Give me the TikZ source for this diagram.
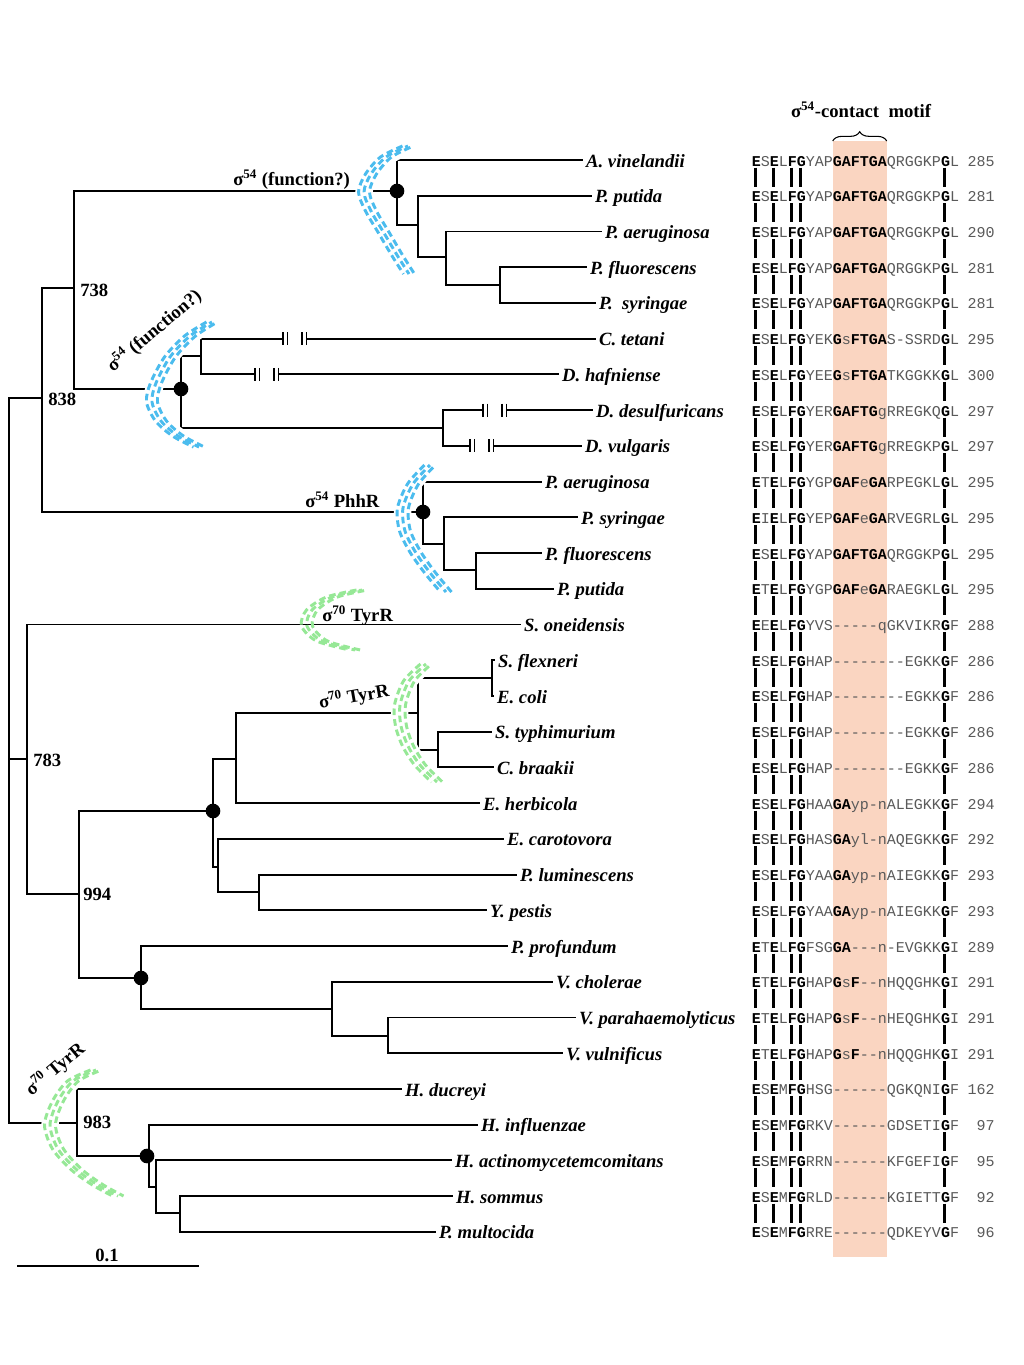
\documentclass[tikz,border=0pt]{standalone}
\usepackage{fontspec}
\setmainfont{Liberation Serif}
\setmonofont{Liberation Mono}
\usetikzlibrary{decorations.pathreplacing}
\definecolor{peach}{RGB}{250,213,193}
\definecolor{hblue}{RGB}{75,188,238}
\definecolor{hgreen}{RGB}{150,232,150}
\definecolor{seqgray}{RGB}{90,90,90}
\newcommand\sqb[1]{{\bfseries\color{black}#1}}
\tikzset{
 br/.style={line width=1.4pt},
 leaf/.style={anchor=west, inner xsep=2.2pt, inner ysep=0pt, text height=10.5pt, text depth=0pt, font=\fontsize{14}{16}\selectfont\bfseries\itshape},
 boot/.style={anchor=west, inner sep=0pt, text height=9.5pt, text depth=0pt, font=\fontsize{14}{16}\selectfont\bfseries},
 sig/.style={inner sep=0pt, font=\fontsize{14}{16}\selectfont\bfseries},
 seq/.style={anchor=base west, inner sep=0pt, font=\fontsize{11.25}{13}\selectfont\ttfamily, text=seqgray},
 num/.style={anchor=base east, inner sep=0pt, font=\fontsize{11.25}{13}\selectfont\ttfamily, text=seqgray},
 bar/.style={line width=1.7pt},
 under/.style={white, line width=13pt},
 stripeB/.style={hblue, line width=2.2pt, dash pattern=on 5pt off 3pt},
 stripeG/.style={hgreen, line width=2.2pt, dash pattern=on 5pt off 3pt},
 brk/.pic={\fill[white] (0.8,-3) rectangle (22.7,3);
   \draw[line width=1pt] (0,-6.5)--(0,6.5) (4.5,-6.5)--(4.5,6.5) (19,-6.5)--(19,6.5) (23.5,-6.5)--(23.5,6.5);}
}
\begin{document}
\begin{tikzpicture}[x=0.75pt,y=-0.75pt]
\useasboundingbox (0,0) rectangle (1024,1365);
\fill[white] (0,0) rectangle (1024,1365);
% motif band
\fill[peach] (832.7,141) rectangle (886.7,1257);

% leaves
\node[leaf] (L1) at (583,160.0) {A. vinelandii};
\node[leaf] (L2) at (592,195.7) {P. putida};
\node[leaf] (L3) at (602,231.5) {P. aeruginosa};
\node[leaf] (L4) at (587,267.2) {P. fluorescens};
\node[leaf] (L5) at (596,302.9) {P.\ \ syringae};
\node[leaf] (L6) at (596,338.7) {C. tetani};
\node[leaf] (L7) at (559,374.4) {D. hafniense};
\node[leaf] (L8) at (593,410.1) {D. desulfuricans};
\node[leaf] (L9) at (582,445.8) {D. vulgaris};
\node[leaf] (L10) at (542,481.6) {P. aeruginosa};
\node[leaf] (L11) at (578,517.3) {P. syringae};
\node[leaf] (L12) at (542,553.0) {P. fluorescens};
\node[leaf] (L13) at (554,588.8) {P. putida};
\node[leaf] (L14) at (521,624.5) {S. oneidensis};
\node[leaf] (L15) at (495,660.2) {S. flexneri};
\node[leaf] (L16) at (494,696.0) {E. coli};
\node[leaf] (L17) at (492,731.7) {S. typhimurium};
\node[leaf] (L18) at (494,767.4) {C. braakii};
\node[leaf] (L19) at (480,803.1) {E. herbicola};
\node[leaf] (L20) at (504,838.9) {E. carotovora};
\node[leaf] (L21) at (517,874.6) {P. luminescens};
\node[leaf] (L22) at (487,910.3) {Y. pestis};
\node[leaf] (L23) at (508,946.1) {P. profundum};
\node[leaf] (L24) at (553,981.8) {V. cholerae};
\node[leaf] (L25) at (576,1017.5) {V. parahaemolyticus};
\node[leaf] (L26) at (563,1053.3) {V. vulnificus};
\node[leaf] (L27) at (402,1089.0) {H. ducreyi};
\node[leaf] (L28) at (478,1124.7) {H. influenzae};
\node[leaf] (L29) at (452,1160.4) {H. actinomycetemcomitans};
\node[leaf] (L30) at (453,1196.2) {H. sommus};
\node[leaf] (L31) at (436,1231.9) {P. multocida};

% internal nodes
\coordinate (root) at (9,759);
\coordinate (n838) at (42,398);
\coordinate (n738) at (74,288);
\coordinate (nA) at (397,191);
\coordinate (nA1) at (418,225);
\coordinate (nA2) at (446,257);
\coordinate (nA3) at (500,285);
\coordinate (nB) at (181,389);
\coordinate (nB1) at (201,356);
\coordinate (nB2) at (443,428);
\coordinate (nC) at (423,512);
\coordinate (nC1) at (444,544);
\coordinate (nC2) at (476,570);
\coordinate (n783) at (27,759);
\coordinate (n994) at (79,894);
\coordinate (nE) at (213,811);
\coordinate (nE1) at (236,759);
\coordinate (nE2) at (418,713);
\coordinate (nE3) at (492,678);
\coordinate (nE4) at (438,750);
\coordinate (nE5) at (218,867);
\coordinate (nE6) at (259,892);
\coordinate (nV) at (141,978);
\coordinate (nV1) at (332,1009);
\coordinate (nV2) at (388,1036);
\coordinate (n983) at (77,1123);
\coordinate (nH) at (149,1156);
\coordinate (nH1) at (156,1187);
\coordinate (nH2) at (180,1213);

% connectors
\draw[br] (root) |- (n838);
\draw[br] (root) |- (n783);
\draw[br] (root) |- (n983);
\draw[br] (n838) |- (n738);
\draw[br] (n838) |- (nC);
\draw[br] (n738) |- (nA);
\draw[br] (n738) |- (nB);
\draw[br] (nA) |- (L1.west);
\draw[br] (nA) |- (nA1);
\draw[br] (nA1) |- (L2.west);
\draw[br] (nA1) |- (nA2);
\draw[br] (nA2) |- (L3.west);
\draw[br] (nA2) |- (nA3);
\draw[br] (nA3) |- (L4.west);
\draw[br] (nA3) |- (L5.west);
\draw[br] (nB) |- (nB1);
\draw[br] (nB) |- (nB2);
\draw[br] (nB1) |- (L6.west);
\draw[br] (nB1) |- (L7.west);
\draw[br] (nB2) |- (L8.west);
\draw[br] (nB2) |- (L9.west);
\draw[br] (nC) |- (L10.west);
\draw[br] (nC) |- (nC1);
\draw[br] (nC1) |- (L11.west);
\draw[br] (nC1) |- (nC2);
\draw[br] (nC2) |- (L12.west);
\draw[br] (nC2) |- (L13.west);
\draw[br] (n783) |- (L14.west);
\draw[br] (n783) |- (n994);
\draw[br] (n994) |- (nE);
\draw[br] (n994) |- (nV);
\draw[br] (nE) |- (nE1);
\draw[br] (nE) |- (nE5);
\draw[br] (nE1) |- (nE2);
\draw[br] (nE1) |- (L19.west);
\draw[br] (nE2) |- (nE3);
\draw[br] (nE2) |- (nE4);
\draw[br] (nE3) |- (L15.west);
\draw[br] (nE3) |- (L16.west);
\draw[br] (nE4) |- (L17.west);
\draw[br] (nE4) |- (L18.west);
\draw[br] (nE5) |- (L20.west);
\draw[br] (nE5) |- (nE6);
\draw[br] (nE6) |- (L21.west);
\draw[br] (nE6) |- (L22.west);
\draw[br] (nV) |- (L23.west);
\draw[br] (nV) |- (nV1);
\draw[br] (nV1) |- (L24.west);
\draw[br] (nV1) |- (nV2);
\draw[br] (nV2) |- (L25.west);
\draw[br] (nV2) |- (L26.west);
\draw[br] (n983) |- (L27.west);
\draw[br] (n983) |- (nH);
\draw[br] (nH) |- (L28.west);
\draw[br] (nH) |- (nH1);
\draw[br] (nH1) |- (L29.west);
\draw[br] (nH1) |- (nH2);
\draw[br] (nH2) |- (L30.west);
\draw[br] (nH2) |- (L31.west);

% branch breaks
\pic at (283,338.7) {brk};
\pic at (255,374.4) {brk};
\pic at (483,410.1) {brk};
\pic at (470,445.8) {brk};

% hatched bands: white underlays
\draw[under] plot[smooth] coordinates {(408,146) (386,157) (371,174) (364,192) (371,211) (384,233) (397,255) (409,274)};
\draw[under] plot[smooth] coordinates {(212,322) (190,336) (170,357) (156,383) (152,402) (161,421) (178,436) (199,447)};
\draw[under] plot[smooth] coordinates {(430,465) (413,484) (403,508) (405,531) (416,553) (431,574) (446,592)};
\draw[under] plot[smooth] coordinates {(426,664) (409,681) (400,705) (401,726) (408,746) (420,765) (437,782)};
\draw[under] plot[smooth] coordinates {(96,1070) (73,1081) (58,1101) (50,1125) (58,1149) (77,1170) (98,1185) (118,1196)};
% stripes
\foreach \s/\p in {-5.5/0pt,0/2.7pt,5.5/5.4pt}{
 \draw[stripeB, dash phase=\p, shift={(\s,0)}] plot[smooth] coordinates {(408,146) (386,157) (371,174) (364,192) (371,211) (384,233) (397,255) (409,274)};
 \draw[stripeB, dash phase=\p, shift={(\s,0)}] plot[smooth] coordinates {(212,322) (190,336) (170,357) (156,383) (152,402) (161,421) (178,436) (199,447)};
 \draw[stripeB, dash phase=\p, shift={(\s,0)}] plot[smooth] coordinates {(430,465) (413,484) (403,508) (405,531) (416,553) (431,574) (446,592)};
 \draw[stripeG, dash phase=\p, shift={(\s,0)}] plot[smooth] coordinates {(362,590) (332,597) (312,610) (307,626) (322,641) (355,650)};
 \draw[stripeG, dash phase=\p, shift={(\s,0)}] plot[smooth] coordinates {(426,664) (409,681) (400,705) (401,726) (408,746) (420,765) (437,782)};
 \draw[stripeG, dash phase=\p, shift={(\s,0)}] plot[smooth] coordinates {(96,1070) (73,1081) (58,1101) (50,1125) (58,1149) (77,1170) (98,1185) (118,1196)};
}

% node dots
\fill (nA) circle (5.5pt);
\fill (nB) circle (5.5pt);
\fill (nC) circle (5.5pt);
\fill (nE) circle (5.5pt);
\fill (nV) circle (5.5pt);
\fill ([xshift=-1.5pt]nH) circle (5.5pt);

% bootstrap values
\node[boot] (b738) at (80,290) {738};
\node[boot] (b838) at (48,399) {838};
\node[boot] (b783) at (33,760) {783};
\node[boot] (b994) at (83,894) {994};
\node[boot] (b983) at (83,1122) {983};

% sigma labels
\node[sig, anchor=base west] (sg1) at (233,185) {σ\textsuperscript{54} (function?)};
\node[sig, rotate=40] (sg2) at (154,331) {σ\textsuperscript{54} (function?)};
\node[sig, anchor=base west] (sg3) at (305,507) {σ\textsuperscript{54} PhhR};
\node[sig, anchor=base west] (sg4) at (322,621) {σ\textsuperscript{70} TyrR};
\node[sig, rotate=10] (sg5) at (354,697) {σ\textsuperscript{70} TyrR};
\node[sig, rotate=40] (sg6) at (55,1069) {σ\textsuperscript{70} TyrR};

% scale bar
\coordinate (sb1) at (17,1266);
\coordinate (sb2) at (199,1266);
\draw[line width=1.4pt] (sb1) -- (sb2);
\node[sig, anchor=base] (sbl) at (107,1261) {0.1};

% motif title and brace
\node[sig, anchor=base] (ttl) at (861,117) {σ\textsuperscript{54}-contact\ \ motif};
\coordinate (bl) at (832.7,141);
\coordinate (brr) at (886.7,141);
\draw[decorate, decoration={brace, amplitude=7pt}, line width=0.8pt] (bl) -- (brr);

% alignment rows
\foreach \i/\q/\n in {
1/{\sqb{E}S\sqb{E}L\sqb{FG}YAP\sqb{GAFTGA}QRGGKP\sqb{G}L}/285,
2/{\sqb{E}S\sqb{E}L\sqb{FG}YAP\sqb{GAFTGA}QRGGKP\sqb{G}L}/281,
3/{\sqb{E}S\sqb{E}L\sqb{FG}YAP\sqb{GAFTGA}QRGGKP\sqb{G}L}/290,
4/{\sqb{E}S\sqb{E}L\sqb{FG}YAP\sqb{GAFTGA}QRGGKP\sqb{G}L}/281,
5/{\sqb{E}S\sqb{E}L\sqb{FG}YAP\sqb{GAFTGA}QRGGKP\sqb{G}L}/281,
6/{\sqb{E}S\sqb{E}L\sqb{FG}YEK\sqb{G}s\sqb{FTGA}S-SSRD\sqb{G}L}/295,
7/{\sqb{E}S\sqb{E}L\sqb{FG}YEE\sqb{G}s\sqb{FTGA}TKGGKK\sqb{G}L}/300,
8/{\sqb{E}S\sqb{E}L\sqb{FG}YER\sqb{GAFTG}gRREGKQ\sqb{G}L}/297,
9/{\sqb{E}S\sqb{E}L\sqb{FG}YER\sqb{GAFTG}gRREGKP\sqb{G}L}/297,
10/{\sqb{E}T\sqb{E}L\sqb{FG}YGP\sqb{GAF}e\sqb{GA}RPEGKL\sqb{G}L}/295,
11/{\sqb{E}I\sqb{E}L\sqb{FG}YEP\sqb{GAF}e\sqb{GA}RVEGRL\sqb{G}L}/295,
12/{\sqb{E}S\sqb{E}L\sqb{FG}YAP\sqb{GAFTGA}QRGGKP\sqb{G}L}/295,
13/{\sqb{E}T\sqb{E}L\sqb{FG}YGP\sqb{GAF}e\sqb{GA}RAEGKL\sqb{G}L}/295,
14/{\sqb{E}E\sqb{E}L\sqb{FG}YVS-----qGKVIKR\sqb{G}F}/288,
15/{\sqb{E}S\sqb{E}L\sqb{FG}HAP--------EGKK\sqb{G}F}/286,
16/{\sqb{E}S\sqb{E}L\sqb{FG}HAP--------EGKK\sqb{G}F}/286,
17/{\sqb{E}S\sqb{E}L\sqb{FG}HAP--------EGKK\sqb{G}F}/286,
18/{\sqb{E}S\sqb{E}L\sqb{FG}HAP--------EGKK\sqb{G}F}/286,
19/{\sqb{E}S\sqb{E}L\sqb{FG}HAA\sqb{GA}yp-nALEGKK\sqb{G}F}/294,
20/{\sqb{E}S\sqb{E}L\sqb{FG}HAS\sqb{GA}yl-nAQEGKK\sqb{G}F}/292,
21/{\sqb{E}S\sqb{E}L\sqb{FG}YAA\sqb{GA}yp-nAIEGKK\sqb{G}F}/293,
22/{\sqb{E}S\sqb{E}L\sqb{FG}YAA\sqb{GA}yp-nAIEGKK\sqb{G}F}/293,
23/{\sqb{E}T\sqb{E}L\sqb{FG}FSG\sqb{GA}---n-EVGKK\sqb{G}I}/289,
24/{\sqb{E}T\sqb{E}L\sqb{FG}HAP\sqb{G}s\sqb{F}--nHQQGHK\sqb{G}I}/291,
25/{\sqb{E}T\sqb{E}L\sqb{FG}HAP\sqb{G}s\sqb{F}--nHEQGHK\sqb{G}I}/291,
26/{\sqb{E}T\sqb{E}L\sqb{FG}HAP\sqb{G}s\sqb{F}--nHQQGHK\sqb{G}I}/291,
27/{\sqb{E}S\sqb{E}M\sqb{FG}HSG------QGKQNI\sqb{G}F}/162,
28/{\sqb{E}S\sqb{E}M\sqb{FG}RKV------GDSETI\sqb{G}F}/97,
29/{\sqb{E}S\sqb{E}M\sqb{FG}RRN------KFGEFI\sqb{G}F}/95,
30/{\sqb{E}S\sqb{E}M\sqb{FG}RLD------KGIETT\sqb{G}F}/92,
31/{\sqb{E}S\sqb{E}M\sqb{FG}RRE------QDKEYV\sqb{G}F}/96}{
 \node[seq] (S\i) at (751.7,{166+(\i-1)*35.73}) {\q};
 \node[num] (N\i) at (995,{166+(\i-1)*35.73}) {\n};
}
% conservation bars
\foreach \i in {1,...,30}{
 \foreach \k in {0,2,4,5,21}{
  \draw[bar] ({755.5+9*\k},{160+(\i-1)*35.73+7.5}) -- ++(0,19);
 }
}
\end{tikzpicture}
\end{document}
